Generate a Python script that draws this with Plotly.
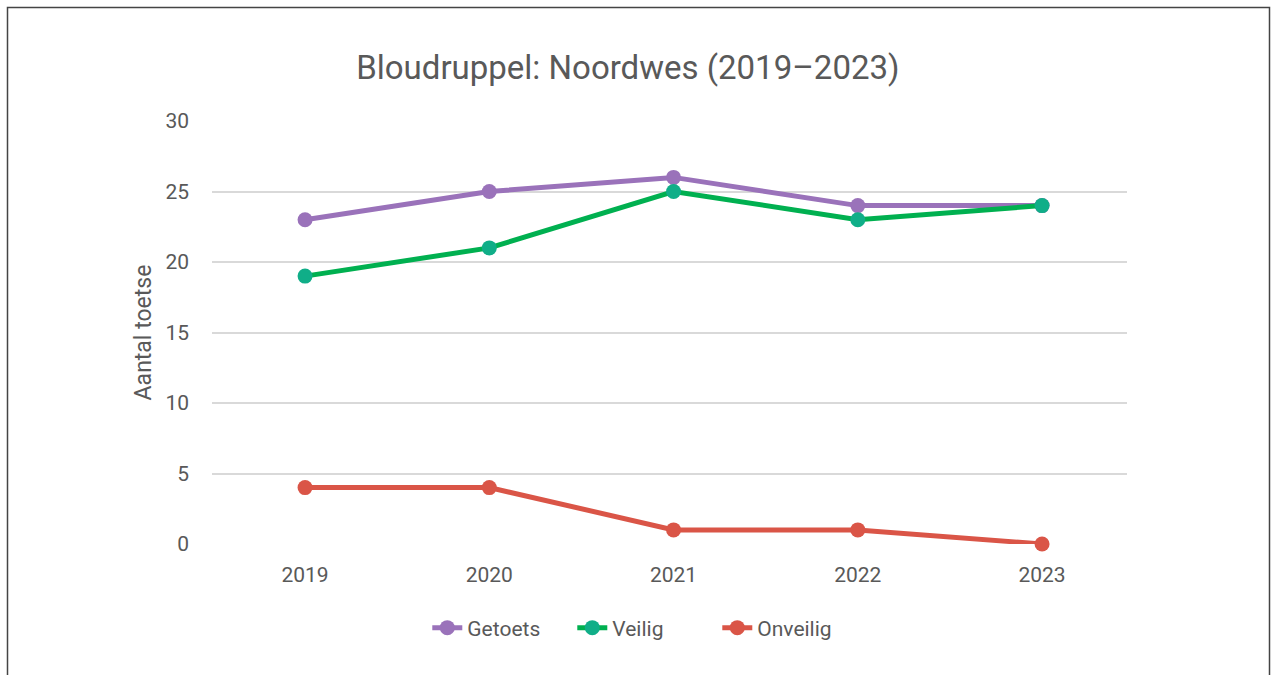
import plotly.graph_objects as go

years = ["2019", "2020", "2021", "2022", "2023"]
getoets = [23, 25, 26, 24, 24]
veilig = [19, 21, 25, 23, 24]
onveilig = [4, 4, 1, 1, 0]
y_ticks = [0, 5, 10, 15, 20, 25, 30]

W, H = 1271, 675
L, R, T, B = 212, 144, 121, 131
pw, ph = W - L - R, H - T - B

def px_x(x):
    return (x - L) / pw

def px_y(y):
    return (H - B - y) / ph

fig = go.Figure()
series = [
    ("Getoets", getoets, "#9A72BA", "#9A72BA"),
    ("Veilig", veilig, "#00B050", "#10AE88"),
    ("Onveilig", onveilig, "#DA5547", "#DA5547"),
]
for name, vals, lc, mc in series:
    fig.add_trace(go.Scatter(
        x=years, y=vals, name=name, mode="lines+markers",
        line=dict(color=lc, width=5),
        marker=dict(color=mc, size=15),
        cliponaxis=False,
    ))

fig.update_layout(
    width=W, height=H,
    margin=dict(l=L, r=R, t=T, b=B),
    paper_bgcolor="white", plot_bgcolor="white",
    font=dict(family="Roboto, Arial, sans-serif", color="#595959"),
    title=dict(text="Bloudruppel: Noordwes (2019–2023)", x=0.494, xanchor="center",
               y=1 - 67 / H, yanchor="middle",
               font=dict(size=33, color="#595959", family="Roboto, Arial, sans-serif")),
    xaxis=dict(type="category", range=[-0.505, 4.461], showgrid=False, showline=False,
               zeroline=False, tickfont=dict(size=21, color="#595959"), ticks="",
               ticklabelstandoff=16),
    yaxis=dict(range=[0, 30], tickvals=y_ticks, showgrid=True, gridcolor="#D9D9D9",
               gridwidth=1.5, zeroline=False, showline=False,
               tickfont=dict(size=21, color="#595959"), ticklabelstandoff=22,
               title=dict(text="Aantal toetse", font=dict(size=23, color="#595959"), standoff=7)),
    legend=dict(orientation="h", x=0.473, xanchor="center", y=px_y(628), yanchor="middle",
                font=dict(size=21, color="#595959"), tracegroupgap=0, itemwidth=30,
                entrywidth=100, entrywidthmode="pixels"),
    showlegend=True,
    shapes=[dict(type="rect", xref="paper", yref="paper",
                 x0=px_x(7.5), x1=px_x(1269.5), y0=px_y(720), y1=px_y(7.5),
                 line=dict(color="#444444", width=1.5), fillcolor="rgba(0,0,0,0)", layer="below")],
)

fig.write_html("out.html", config={"displayModeBar": False},
               post_script="document.body.style.margin='0';document.body.style.overflow='hidden';")
